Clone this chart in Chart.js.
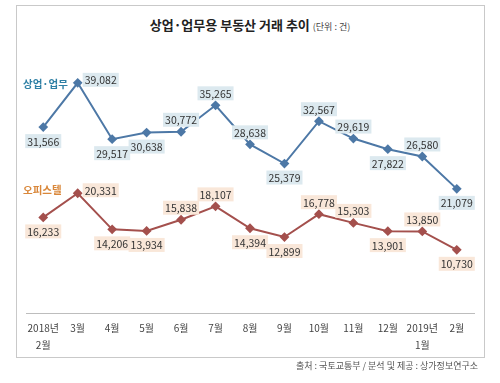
<!DOCTYPE html>
<html>
<head>
<meta charset="utf-8">
<script src="https://cdn.jsdelivr.net/npm/chart.js@4"></script>
<style>
  body { margin: 0; background: #fff; font-family: 'Noto Sans CJK KR', sans-serif; }
  #wrap { position: relative; width: 500px; height: 383px; overflow: hidden; }
  #box { position: absolute; left: 16px; top: 5px; width: 467px; height: 351px; border: 1px solid #c9c9c9; }
  #title { position: absolute; left: 0; width: 500px; top: 15px; text-align: center; color: #222;
    font-size: 13px; font-weight: bold; white-space: nowrap; }
  #title span { font-size: 9px; font-weight: normal; color: #444; }
  #src { position: absolute; right: 22px; top: 359px; font-size: 9px; color: #555; white-space: nowrap; }
  canvas { position: absolute; left: 0; top: 0; }
</style>
</head>
<body>
<div id="wrap">
  <div id="box"></div>
  <div id="title">상업·업무용 부동산 거래 추이 <span>(단위 : 건)</span></div>
  <canvas id="chart" width="500" height="383"></canvas>
  <div id="src">출처 : 국토교통부 / 분석 및 제공 : 상가정보연구소</div>
</div>
<script>
const months = [['2018년', '2월'], '3월', '4월', '5월', '6월', '7월', '8월', '9월', '10월', '11월', '12월', ['2019년', '1월'], '2월']
const commercial = [31566, 39082, 29517, 30638, 30772, 35265, 28638, 25379, 32567, 29619, 27822, 26580, 21079]
const officetel = [16233, 20331, 14206, 13934, 15838, 18107, 14394, 12899, 16778, 15303, 13901, 13850, 10730]

// where each value label goes: a = above, b = below, r = right
const commercialPos = ['b', 'r', 'b', 'b', 'a', 'a', 'a', 'b', 'a', 'a', 'b', 'a', 'b']
const officetelPos = ['b', 'r', 'b', 'b', 'a', 'a', 'b', 'b', 'a', 'a', 'b', 'a', 'b']

const series = [
  { name: '상업·업무', data: commercial, pos: commercialPos, line: '#4d78a6', box: '#dce9ef', nameColor: '#2f80a5' },
  { name: '오피스텔', data: officetel, pos: officetelPos, line: '#a4504d', box: '#f9e7d9', nameColor: '#d9873a' },
]

const valueLabels = {
  id: 'valueLabels',
  afterDatasetsDraw(chart) {
    const c = chart.ctx
    c.save()
    c.font = '10.5px "Noto Sans CJK KR", sans-serif'
    c.textBaseline = 'middle'
    series.forEach((s, di) => {
      const meta = chart.getDatasetMeta(di)
      meta.data.forEach((pt, i) => {
        const txt = s.data[i].toLocaleString('en-US')
        const w = c.measureText(txt).width + 4
        const h = 14
        let cx = pt.x, cy = pt.y
        if (s.pos[i] === 'a') cy = pt.y - 12
        else if (s.pos[i] === 'b') cy = pt.y + 14
        else { cx = pt.x + 5 + w / 2; cy = pt.y - 3 }
        c.fillStyle = s.box
        c.fillRect(cx - w / 2, cy - h / 2, w, h)
        c.fillStyle = '#333'
        c.textAlign = 'center'
        c.fillText(txt, cx, cy + 0.5)
      })
      // series name on the left
      const y = chart.scales.y.getPixelForValue(s.data[1])
      c.font = 'bold 10.5px "Noto Sans CJK KR", sans-serif'
      c.fillStyle = s.nameColor
      c.textAlign = 'left'
      c.fillText(s.name, 23, y + (di === 0 ? 1 : -3))
      c.font = '10.5px "Noto Sans CJK KR", sans-serif'
    })
    c.restore()
  }
}

new Chart(document.getElementById('chart'), {
  type: 'line',
  data: {
    labels: months,
    datasets: series.map(s => ({
      label: s.name,
      data: s.data,
      borderColor: s.line,
      backgroundColor: s.line,
      borderWidth: 2,
      pointStyle: 'rectRot',
      pointRadius: 3.5,
      tension: 0,
    })),
  },
  options: {
    responsive: false,
    animation: false,
    layout: { padding: { left: 26, right: 26, top: 48, bottom: 30 } },
    plugins: {
      legend: { display: false },
      tooltip: { enabled: false },
    },
    scales: {
      x: {
        offset: true,
        grid: { display: false },
        border: { display: true, color: '#bdbdbd', width: 1 },
        ticks: {
          color: '#444',
          padding: -1,
          maxRotation: 0,
          autoSkip: false,
          font: { family: '"Noto Sans CJK KR", sans-serif', size: 10, lineHeight: 1.7 },
        },
        afterFit: (scale) => { scale.height = 40 },
      },
      y: {
        display: false,
        min: 0,
        max: 45000,
      },
    },
  },
  plugins: [valueLabels],
})
</script>
</body>
</html>
